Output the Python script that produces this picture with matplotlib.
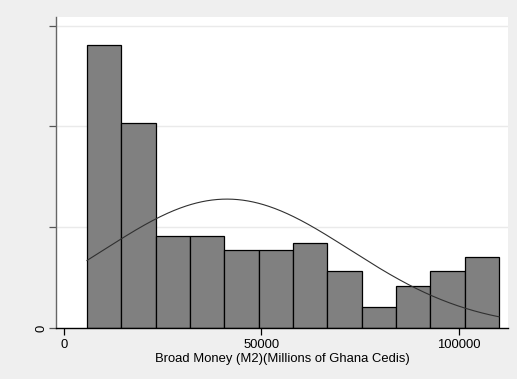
import numpy as np
import matplotlib
matplotlib.use("Agg")
import matplotlib.pyplot as plt

# Histogram of broad money (M2), millions of Ghana cedis
bin_start = 5830.0
bin_width = 8703.0
counts = [40, 29, 13, 13, 11, 11, 12, 8, 3, 6, 8, 10]
n_obs = sum(counts)

# Normal density overlay parameters
norm_mean = 41300.0
norm_sd = 31200.0

x_ticks = [0, 50000, 100000]
x_tick_labels = ["0", "50000", "100000"]
y_ticks = [0, 1e-5, 2e-5, 3e-5]
y_tick_labels = ["0", "", "", ""]
x_label = "Broad Money (M2)(Millions of Ghana Cedis)"

plt.rcParams['font.family'] = ['Liberation Sans', 'DejaVu Sans']

fig = plt.figure(figsize=(5.17, 3.79), dpi=100, facecolor="#efefef")
W, H = 517, 379
ax = fig.add_axes([56 / W, 1 - 328 / H, (508 - 56) / W, (328 - 17) / H])
ax.set_facecolor("white")

edges = bin_start + bin_width * np.arange(len(counts) + 1)
density = np.array(counts) / (n_obs * bin_width)
ax.bar(edges[:-1], density, width=bin_width, align="edge",
       color="#808080", edgecolor="black", linewidth=0.9, zorder=2)

xs = np.linspace(edges[0], edges[-1], 400)
ys = np.exp(-0.5 * ((xs - norm_mean) / norm_sd) ** 2) / (norm_sd * np.sqrt(2 * np.pi))
ax.plot(xs, ys, color="#303030", linewidth=0.8, zorder=3)

ax.set_xlim(-2028, 112547)
ax.set_ylim(0, 3.085e-5)

ax.set_yticks(y_ticks)
ax.set_yticklabels(y_tick_labels, rotation=90, va="center", fontsize=9.4)
ax.set_xticks(x_ticks)
ax.set_xticklabels(x_tick_labels, fontsize=9.4)
ax.tick_params(axis="x", length=5, width=0.9, color="black", pad=3)
ax.tick_params(axis="y", length=5, width=0.9, color="#555555", pad=1)

for y in y_ticks[1:]:
    ax.axhline(y, color="#eaeaea", linewidth=1.0, zorder=1)

for side in ("top", "right"):
    ax.spines[side].set_visible(False)
ax.spines["left"].set_color("#666666")
ax.spines["left"].set_linewidth(1.0)
ax.spines["bottom"].set_color("black")
ax.spines["bottom"].set_linewidth(1.0)

ax.set_xlabel(x_label, fontsize=9.4, labelpad=1.5)

fig.savefig("out.png", dpi=100, facecolor=fig.get_facecolor())
